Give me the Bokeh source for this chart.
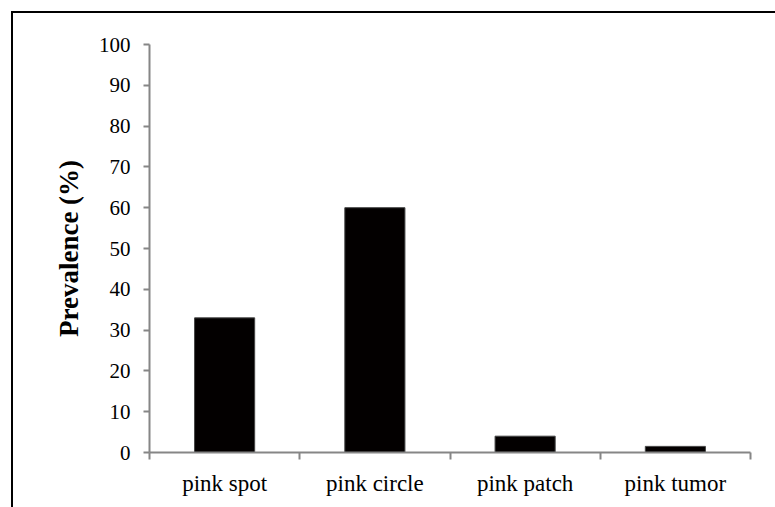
from bokeh.plotting import figure
from bokeh.models import Range1d, FixedTicker, ColumnDataSource
from bokeh.embed import file_html
from bokeh.resources import INLINE

categories = ["pink spot", "pink circle", "pink patch", "pink tumor"]
prevalence = [33, 60, 4, 1.5]
y_ticks = [0, 10, 20, 30, 40, 50, 60, 70, 80, 90, 100]
y_label = "Prevalence (%)"

x_centers = [i + 0.5 for i in range(len(categories))]
x_bounds = list(range(len(categories) + 1))

src = ColumnDataSource(dict(x=x_centers, top=prevalence, cat=categories))

p = figure(output_backend="svg", toolbar_location=None,
           x_range=Range1d(0, len(categories)), y_range=Range1d(0, 100),
           frame_width=601, frame_height=408,
           min_border_left=136, min_border_right=25,
           min_border_top=31, min_border_bottom=55,
           background_fill_color="white", border_fill_color="white")
p.margin = (11, 0, 0, 11)
p.styles = {"border-left": "2px solid black", "border-top": "2px solid black"}
p.outline_line_color = None
p.xgrid.visible = False
p.ygrid.visible = False

p.vbar(x="x", top="top", width=0.4, bottom=0, source=src,
       fill_color="#030000", line_color="#444444", line_width=1)

axis_color = "#868686"
font = "Liberation Serif"

# x axis
xa = p.xaxis[0]
xa.ticker = FixedTicker(ticks=x_centers, minor_ticks=x_bounds)
xa.major_label_overrides = {x: c for x, c in zip(x_centers, categories)}
xa.axis_line_color = axis_color
xa.axis_line_width = 2
xa.major_tick_out = 0
xa.major_tick_in = 0
xa.minor_tick_out = 7
xa.minor_tick_in = 0
xa.minor_tick_line_color = axis_color
xa.minor_tick_line_width = 2
xa.major_label_standoff = 11
xa.major_label_text_font = font
xa.major_label_text_font_size = "23px"
xa.major_label_text_color = "black"

# y axis
ya = p.yaxis[0]
ya.ticker = FixedTicker(ticks=y_ticks)
ya.axis_line_color = axis_color
ya.axis_line_width = 2
ya.major_tick_line_color = axis_color
ya.major_tick_line_width = 2
ya.major_tick_out = 6
ya.major_tick_in = 0
ya.minor_tick_line_color = None
ya.major_label_standoff = 13
ya.major_label_text_font = font
ya.major_label_text_font_size = "21px"
ya.major_label_text_color = "black"
ya.axis_label = y_label
ya.axis_label_text_font = font
ya.axis_label_text_font_style = "bold"
ya.axis_label_text_font_size = "27px"
ya.axis_label_text_color = "black"
ya.axis_label_standoff = 12

open("out.html", "w").write(file_html(p, INLINE))
